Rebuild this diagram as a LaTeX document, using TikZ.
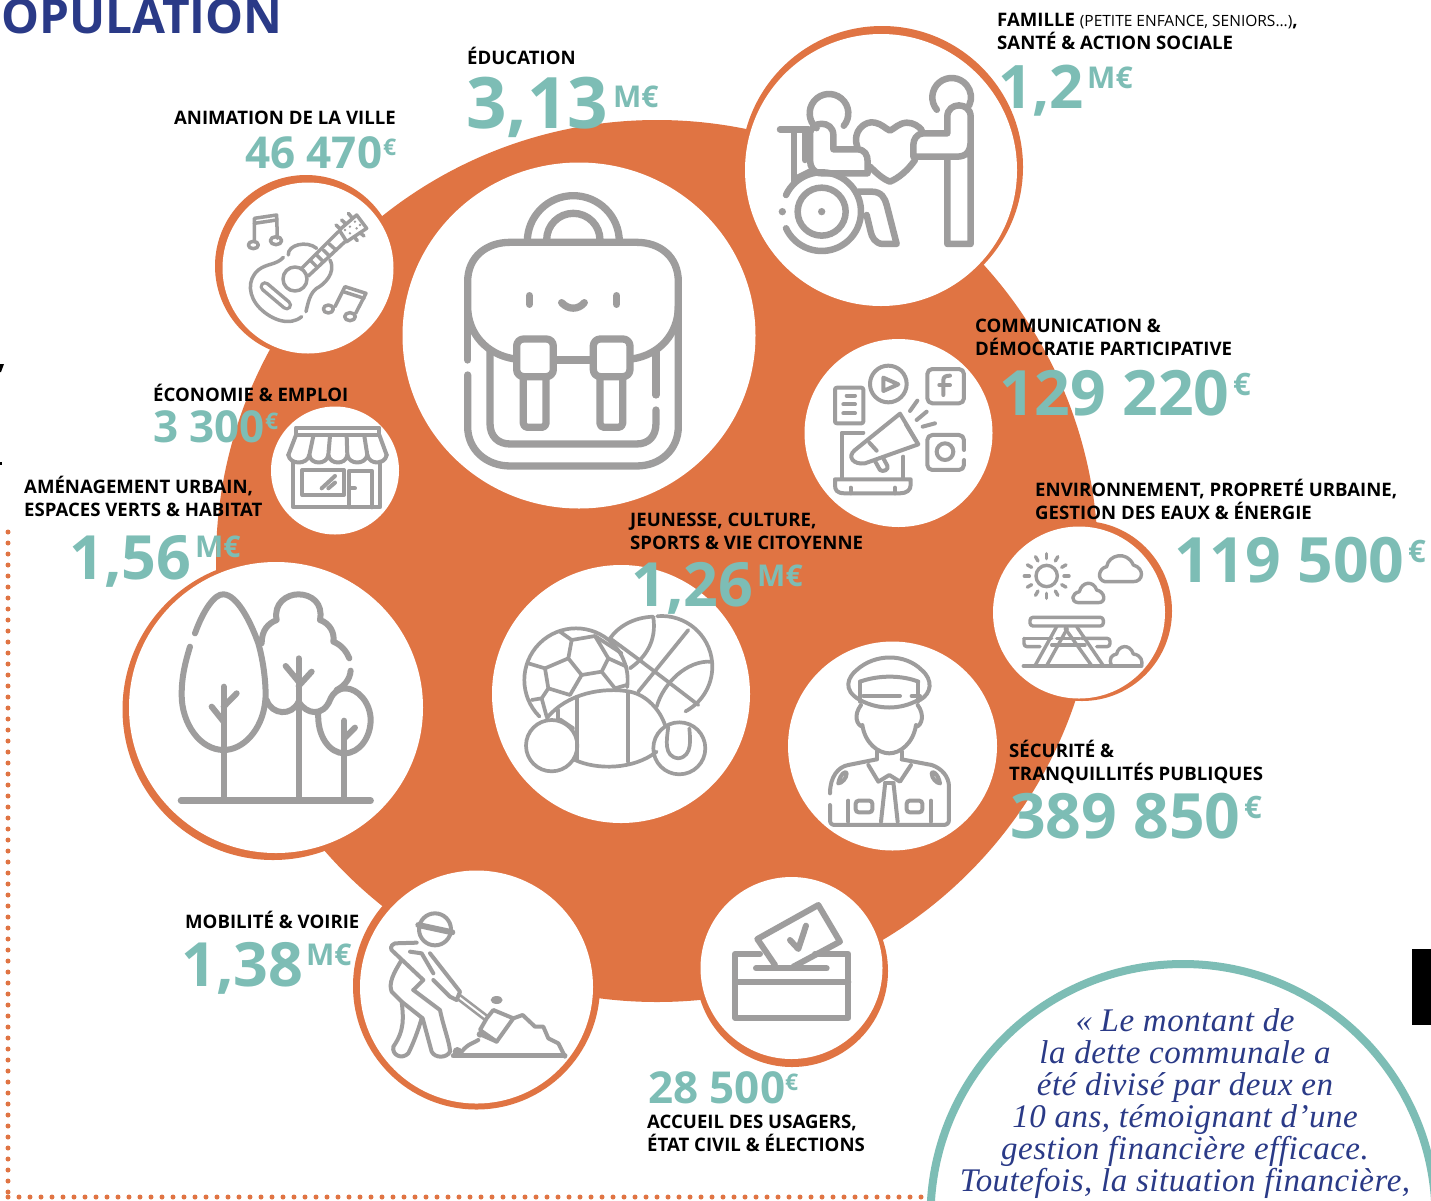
\documentclass[tikz,border=0pt]{standalone}
\usepackage{fontspec}
\newfontfamily\regfont{Open Sans}
\newcommand{\labfont}{\regfont\bfseries}
\newcommand{\numfont}{\regfont\bfseries}
\newfontfamily\quotebase{Liberation Serif}[LetterSpace=1.5]
\newcommand{\quotefont}{\quotebase\itshape}
\definecolor{orng}{HTML}{E07443}
\definecolor{teal1}{HTML}{7DBDB5}
\definecolor{icg}{HTML}{9E9D9D}
\definecolor{navy1}{HTML}{2A3A87}
\tikzset{
  ic/.style={draw=icg,line cap=round,line join=round},
  lab/.style={inner sep=0pt,anchor=base west,text=black,font=\labfont\fontsize{18.6}{18.6}\selectfont},
  nb/.style={inner sep=0pt,anchor=base west,text=teal1},
  qt/.style={inner sep=0pt,anchor=base,text=navy1,font=\quotefont\fontsize{33}{33}\selectfont},
  dots/.style={orng,line width=5pt,line cap=round,dash pattern=on 0pt off 11pt},
  whitec/.style={fill=white},
  ringc/.style={fill=orng},
}
\newcommand{\lbl}[4]{\node[lab] (#1) at (#2,#3) {#4};}
\newcommand{\nbr}[5]{\node[nb,font=\numfont\fontsize{#4}{#4}\selectfont] (#1) at (#2,#3) {#5};}
\begin{document}
\begin{tikzpicture}[x=1pt,y=-1pt]
\useasboundingbox (0,0) rectangle (1431,1200);
\clip (0,0) rectangle (1431,1200);
\fill[white] (0,0) rectangle (1431,1200);
% dotted frame
\coordinate (d1) at (8,531); \coordinate (d2) at (8,1192); \coordinate (d3) at (8,1197); \coordinate (d4) at (922,1197);
\draw[dots] (d2) -- (d1);
\draw[dots] (d3) -- (d4);
% cropped marks at the left edge
\fill[black] (0,364) -- (4,364) -- (1,372) -- (0,372) -- cycle;
\fill[black] (0,462) rectangle (2,465);
% main disc
\fill[orng] (657,561) circle[radius=441];
% rings
\fill[ringc] (882,167) circle[radius=141];
\fill[ringc] (306,266) circle[radius=91];
\fill[ringc] (1082,611) circle[radius=90];
\fill[ringc] (476.5,986) circle[radius=123.5];
\fill[ringc] (792,971) circle[radius=96];
\fill[ringc] (273,709.5) circle[radius=150.5];
% white discs
\fill[whitec] (881,170) circle[radius=136];
\fill[whitec] (579,335.5) ellipse[x radius=176.5,y radius=173];
\fill[whitec] (308,268) circle[radius=85.5];
\fill[whitec] (898.5,433) circle[radius=94];
\fill[whitec] (335,470.5) circle[radius=64];
\fill[whitec] (1079,612.5) circle[radius=86];
\fill[whitec] (621,694) circle[radius=129];
\fill[whitec] (892.5,746) circle[radius=104.5];
\fill[whitec] (476.5,987) circle[radius=116.5];
\fill[whitec] (791.5,968) circle[radius=91];
\fill[whitec] (276,707.5) ellipse[x radius=147,y radius=145.5];
% quote disc
\draw[teal1,line width=8pt,fill=white] (1183,1216.5) circle[radius=252.5];
% black bar
\fill[black] (1412,949) rectangle (1431,1025);

% ---- family icon
\begin{scope}[shift={(740,20)},x=0.3333pt,y=-0.3333pt,line width=6.5pt]
\draw[ic] (267,280) ++(40:58) arc[start angle=40,end angle=-230,radius=58];
\draw[ic] (210,345) .. controls (210,300) and (280,300) .. (280,345) -- (280,388) -- (350,388) .. controls (375,388) and (383,405) .. (383,425) -- (383,460) -- (245,460) .. controls (220,460) and (210,440) .. (210,420) -- cycle;
\draw[ic] (120,328) -- (205,328);
\draw[ic] (162,328) -- (162,490);
\draw[ic] (195,335) -- (195,420);
\draw[ic] (170,475) -- (210,455);
\draw[ic] (245,575) ++(-155:118) arc[start angle=-155,end angle=155,radius=118];
\draw[ic] (245,575) circle[radius=72];
\fill[icg] (245,575) circle[radius=11];
\fill[icg] (127,575) circle[radius=11];
\draw[ic] (355,515) -- (395,515) .. controls (425,515) and (435,535) .. (440,555) -- (470,672) -- (430,672) .. controls (405,672) and (395,650) .. (392,635) -- (380,585);
\draw[ic] (352,380) .. controls (335,335) and (375,300) .. (405,308) .. controls (425,312) and (435,325) .. (450,332) .. controls (465,325) and (475,310) .. (500,308) .. controls (520,308) and (535,318) .. (545,330);
\draw[ic] (525,420) .. controls (505,450) and (475,475) .. (450,485) .. controls (430,478) and (410,460) .. (390,440);
\draw[ic] (635,232) ++(140:58) arc[start angle=140,end angle=385,radius=58];
\draw[ic] (622,410) -- (622,672) -- (692,672) -- (692,290) .. controls (692,245) and (622,245) .. (622,290) -- (622,340) -- (550,340) .. controls (530,340) and (520,360) .. (520,375) -- (520,410) -- (650,410) .. controls (680,410) and (692,395) .. (692,360);
\end{scope}

% ---- backpack icon
\begin{scope}[shift={(400,160)},x=0.3333pt,y=-0.3333pt,line width=7.3pt]
\draw[ic] (520,245) ++(180:138) arc[start angle=180,end angle=360,radius=138];
\draw[ic] (520,240) ++(180:80) arc[start angle=180,end angle=360,radius=80];
\draw[ic] (345,597) .. controls (260,585) and (203,520) .. (203,440) -- (203,365) .. controls (203,290) and (260,247) .. (330,247) -- (710,247) .. controls (780,247) and (835,290) .. (835,365) -- (835,440) .. controls (835,520) and (780,585) .. (695,597);
\draw[ic] (465,600) -- (575,600);
\draw[ic] (203,440) -- (203,600);
\draw[ic] (203,645) -- (203,800) .. controls (203,870) and (260,918) .. (330,918) -- (710,918) .. controls (780,918) and (835,870) .. (835,800) -- (835,440);
\draw[ic] (270,570) -- (270,790) .. controls (270,830) and (295,852) .. (330,852) -- (710,852) .. controls (745,852) and (768,830) .. (768,790) -- (768,750);
\draw[ic] (768,575) -- (768,705);
\draw[ic,rounded corners=7pt] (350,537) rectangle (460,650);
\draw[ic,rounded corners=7pt] (580,537) rectangle (690,650);
\draw[ic,rounded corners=4pt] (370,655) -- (370,802) -- (438,802) -- (438,655);
\draw[ic,rounded corners=4pt] (600,655) -- (600,802) -- (668,802) -- (668,655);
\draw[ic] (388,407) -- (388,433);
\draw[ic] (650,407) -- (650,433);
\draw[ic] (485,428) .. controls (505,450) and (535,450) .. (553,428);
\end{scope}

% ---- guitar icon
\begin{scope}[shift={(210,170)},x=0.3333pt,y=-0.3333pt,line width=3.5pt]
\draw[ic] (133,215) -- (133,145) -- (200,135) -- (202,205);
\draw[ic] (133,160) -- (200,150);
\draw[ic] (130,225) ellipse[x radius=15,y radius=11];
\draw[ic] (198,212) ellipse[x radius=17,y radius=12];
\draw[ic] (375,410) -- (405,350) -- (468,370) -- (437,430);
\draw[ic] (400,365) -- (462,385);
\draw[ic] (355,417) ellipse[x radius=15,y radius=12];
\draw[ic] (420,440) ellipse[x radius=16,y radius=12];
\draw[ic] (235,255) .. controls (232,225) and (290,210) .. (320,235);
\draw[ic] (360,270) .. controls (380,310) and (340,345) .. (320,355) .. controls (300,370) and (295,395) .. (288,425);
\draw[ic] (220,262) .. controls (200,285) and (170,280) .. (145,300) .. controls (110,330) and (115,380) .. (150,415) .. controls (185,450) and (240,470) .. (275,440);
\draw[ic] (255,327) circle[radius=36];
\draw[ic] (275,295) -- (385,185);
\draw[ic] (295,318) -- (405,215);
\draw[ic] (300,270) -- (320,290);
\draw[ic] (320,255) -- (340,275);
\draw[ic] (340,240) -- (358,258);
\draw[ic] (358,222) -- (378,240);
\draw[ic] (388,180) -- (440,135) -- (470,175) -- (410,215) -- cycle;
\draw[ic] (378,165) -- (392,178);
\draw[ic] (395,150) -- (408,162);
\draw[ic] (415,130) -- (427,144);
\draw[ic] (432,200) -- (442,212);
\draw[ic] (450,188) -- (462,198);
\foreach \p/\q in {405/180,420/170,435/155,420/190,440/175,450/165}
  \fill[icg] (\p,\q) circle[radius=4];
\draw[icg,line width=11pt,line cap=round] (165,350) -- (230,405);
\draw[white,line width=4pt,line cap=round] (165,350) -- (230,405);
\end{scope}

% ---- communication icon
\begin{scope}[shift={(800,335)},x=0.3333pt,y=-0.3333pt,line width=4pt]
\draw[ic] (265,147) circle[radius=55];
\draw[ic] (250,128) -- (295,148) -- (250,168) -- cycle;
\draw[ic,rounded corners=5pt] (382,102) rectangle (492,205);
\draw[ic] (430,180) -- (430,135) .. controls (430,125) and (438,122) .. (450,122);
\draw[ic] (418,150) -- (450,150);
\draw[ic,rounded corners=2pt] (105,158) rectangle (190,265);
\draw[ic] (140,182) -- (165,182);
\draw[ic] (130,208) -- (165,208);
\draw[ic] (130,235) -- (165,235);
\draw[ic,rounded corners=5pt] (492,345) -- (492,300) -- (382,300) -- (382,405) -- (492,405) -- (492,375);
\draw[ic] (435,350) circle[radius=25];
\draw[ic] (330,228) -- (352,197);
\draw[ic] (350,255) -- (380,230);
\draw[ic] (368,275) -- (405,265);
\draw[ic] (300,236) -- (355,328) -- (195,385) .. controls (160,390) and (140,365) .. (165,345) -- cycle;
\draw[ic] (208,323) -- (230,347);
\draw[ic] (318,268) -- (348,318);
\draw[ic] (225,378) -- (240,405) .. controls (248,412) and (268,405) .. (262,392) -- (250,370);
\draw[ic] (190,293) -- (125,293) -- (125,430);
\draw[ic] (310,365) -- (310,430);
\draw[ic] (105,433) -- (332,433) -- (332,450) .. controls (332,465) and (320,475) .. (300,475) -- (135,475) .. controls (110,475) and (105,465) .. (105,450) -- cycle;
\draw[ic] (152,458) -- (152,475);
\draw[ic] (285,458) -- (285,475);
\end{scope}

% ---- shop icon
\begin{scope}[shift={(270,400)},x=0.3333pt,y=-0.3333pt,line width=4pt]
\draw[ic] (78,83) rectangle (328,105);
\draw[ic] (78,105) -- (55,165);
\draw[ic] (328,105) -- (350,165);
\draw[ic] (130,108) -- (118,165);
\draw[ic] (180,108) -- (175,165);
\draw[ic] (230,108) -- (232,165);
\draw[ic] (283,108) -- (292,165);
\draw[ic] (55,165) .. controls (60,195) and (112,195) .. (118,165) .. controls (122,195) and (170,195) .. (175,165) .. controls (180,195) and (228,195) .. (232,165) .. controls (238,195) and (286,195) .. (292,165) .. controls (298,195) and (345,195) .. (350,165);
\draw[ic] (70,185) -- (70,322) -- (330,322) -- (330,185);
\draw[ic] (97,210) rectangle (222,285);
\draw[ic] (238,322) -- (238,212) -- (305,212) -- (305,322);
\draw[ic] (240,265) -- (255,265);
\draw[ic] (155,265) -- (195,228);
\draw[ic] (175,265) -- (195,248);
\end{scope}

% ---- picnic icon
\begin{scope}[shift={(990,520)},x=0.3333pt,y=-0.3333pt,line width=3.4pt]
\draw[ic] (170,168) circle[radius=32];
\foreach \a in {0,30,...,330}
  \draw[ic] (170,168) ++(\a:52) -- ++(\a:15);
\draw[ic] (345,185) .. controls (320,180) and (325,145) .. (350,140) .. controls (355,105) and (410,90) .. (430,135) .. controls (465,145) and (460,185) .. (430,185) -- cycle;
\draw[ic] (265,248) .. controls (240,245) and (245,220) .. (268,215) .. controls (275,185) and (310,180) .. (320,210) .. controls (345,215) and (350,248) .. (325,248) -- cycle;
\draw[ic,rounded corners=3pt] (120,292) rectangle (340,318);
\draw[ic,rounded corners=3pt] (102,355) -- (185,355);
\draw[ic,rounded corners=3pt] (275,355) -- (360,355) -- (360,380) -- (320,380);
\draw[ic,rounded corners=3pt] (150,380) -- (102,380) -- (102,355);
\draw[ic] (185,375) -- (285,375);
\draw[ic] (200,355) -- (270,355);
\draw[ic] (135,437) -- (200,320);
\draw[ic] (170,437) -- (232,325);
\draw[ic] (225,325) -- (305,437);
\draw[ic] (260,320) -- (340,437);
\draw[ic] (100,438) -- (455,438);
\draw[ic] (365,438) .. controls (355,415) and (365,405) .. (380,402) .. controls (385,375) and (420,370) .. (430,402) .. controls (455,405) and (458,425) .. (455,438);
\end{scope}

% ---- sports icon
\begin{scope}[shift={(490,560)},x=0.3333pt,y=-0.3333pt,line width=3.7pt]
\draw[ic] (258,360) ++(135:155) arc[start angle=135,end angle=368,radius=155];
\draw[ic] (360,235) .. controls (385,200) and (430,172) .. (490,170);
\draw[ic] (515,320) ++(-95:152) arc[start angle=-95,end angle=62,radius=152];
\draw[ic] (170,475) .. controls (230,400) and (340,380) .. (420,395) .. controls (470,405) and (510,450) .. (525,495);
\draw[ic] (255,600) .. controls (320,630) and (430,630) .. (500,575);
\draw[ic] (185,557) circle[radius=77];
\draw[ic] (568,565) circle[radius=78];
\draw[ic] (535,500) .. controls (530,540) and (520,590) .. (565,595) .. controls (610,590) and (600,530) .. (598,505);
\draw[ic] (260,410) -- (260,600);
\draw[ic] (415,395) -- (415,605);
\draw[ic] (205,450) -- (205,480);
\draw[ic] (210,478) -- (250,505);
\draw[ic] (245,240) -- (315,228) -- (355,295) -- (335,335) -- (275,345) -- (235,295) -- cycle;
\draw[ic] (235,295) -- (165,325) -- (175,385) -- (240,405) -- (275,345);
\draw[ic] (115,310) -- (165,325);
\draw[ic] (175,385) -- (155,415) -- (125,420);
\draw[ic] (155,415) -- (170,470);
\draw[ic] (210,215) -- (245,240);
\draw[ic] (315,228) -- (395,280);
\draw[ic] (355,295) -- (410,320);
\draw[ic] (335,335) -- (375,385) -- (410,375);
\draw[ic] (490,172) .. controls (500,240) and (470,290) .. (420,325);
\draw[ic] (360,235) .. controls (450,300) and (540,370) .. (625,435);
\draw[ic] (595,210) -- (445,395);
\draw[ic] (665,305) .. controls (590,300) and (520,370) .. (500,440);
\end{scope}

% ---- police icon
\begin{scope}[shift={(785,640)},x=0.3333pt,y=-0.3333pt,line width=4pt]
\draw[ic] (225,180) .. controls (170,150) and (190,110) .. (215,90) .. controls (270,40) and (360,40) .. (410,90) .. controls (445,120) and (440,160) .. (405,180);
\draw[ic] (225,125) .. controls (280,105) and (350,105) .. (400,125);
\draw[ic] (225,125) -- (225,185);
\draw[ic] (400,125) -- (400,185);
\draw[ic] (225,180) .. controls (280,210) and (345,210) .. (400,180);
\draw[ic] (235,168) -- (345,168);
\draw[ic] (380,168) -- (405,168);
\draw[ic] (228,195) .. controls (205,225) and (215,255) .. (232,260);
\draw[ic] (398,195) .. controls (420,225) and (410,255) .. (395,260);
\draw[ic] (232,255) .. controls (240,310) and (280,340) .. (313,340) .. controls (345,340) and (385,310) .. (393,255);
\draw[ic] (275,335) -- (275,358);
\draw[ic] (350,335) -- (350,358);
\draw[ic] (135,460) .. controls (135,410) and (160,380) .. (190,375) -- (275,358);
\draw[ic] (350,358) -- (440,375) .. controls (470,385) and (492,410) .. (492,440) -- (492,540) .. controls (492,550) and (485,555) .. (475,555) -- (150,555) .. controls (140,555) and (135,550) .. (135,540) -- (135,495);
\draw[ic] (250,375) -- (280,425) -- (313,405) -- (345,425) -- (378,375);
\draw[ic] (300,428) -- (326,428);
\draw[ic] (300,435) -- (288,545);
\draw[ic] (326,435) -- (338,545);
\draw[ic] (160,430) .. controls (165,400) and (185,390) .. (185,400) .. controls (185,415) and (170,430) .. (160,430);
\draw[ic] (465,430) .. controls (460,400) and (440,390) .. (440,400) .. controls (440,415) and (455,430) .. (465,430);
\draw[ic,rounded corners=3pt] (212,482) rectangle (262,517);
\draw[ic,rounded corners=3pt] (365,482) rectangle (412,517);
\draw[ic] (190,482) -- (190,545);
\draw[ic] (438,482) -- (438,545);
\end{scope}

% ---- digger icon
\begin{scope}[shift={(350,870)},x=0.3333pt,y=-0.3333pt,line width=4pt]
\draw[ic] (255,178) circle[radius=48];
\draw[icg,line width=6pt,line cap=round] (205,165) -- (307,187);
\draw[ic] (155,270) .. controls (130,310) and (115,340) .. (125,365) -- (155,395) .. controls (160,440) and (165,480) .. (130,530) .. controls (125,555) and (155,570) .. (175,550) .. controls (190,520) and (205,480) .. (215,445);
\draw[ic] (190,360) -- (270,420) .. controls (280,470) and (300,520) .. (300,545) .. controls (290,565) and (255,565) .. (245,545) -- (218,445) -- (155,395);
\draw[ic] (200,218) -- (135,220) .. controls (120,225) and (120,240) .. (130,245) -- (220,330) -- (190,360);
\draw[ic] (180,245) -- (215,250) -- (250,310);
\draw[ic] (240,250) -- (330,365) -- (320,390) -- (300,380) -- (250,330);
\draw[icg,line width=2.5pt] (330,375) -- (415,440);
\draw[icg,line width=2.5pt] (320,385) -- (405,450);
\draw[ic] (430,420) -- (490,445) -- (440,515) -- (390,480) -- (410,445) -- cycle;
\fill[icg] (440,390) ellipse[x radius=18,y radius=12];
\fill[icg] (390,493) circle[radius=10];
\draw[ic] (490,445) -- (518,435) -- (555,470) -- (580,470) -- (595,505) -- (625,520) -- (645,560);
\draw[icg,line width=5pt,line cap=round] (310,558) -- (645,558);
\draw[ic] (335,545) .. controls (355,520) and (370,520) .. (385,510);
\fill[icg] (322,545) circle[radius=14];
\draw[ic] (440,515) -- (395,495);
\end{scope}

% ---- ballot icon
\begin{scope}[shift={(695,875)},x=0.3333pt,y=-0.3333pt,line width=6pt]
\draw[ic] (195,237) -- (120,237) -- (120,428) -- (460,428) -- (460,237) -- (360,237);
\draw[ic] (120,322) -- (460,322);
\draw[ic] (183,280) -- (395,280);
\draw[ic] (240,270) -- (187,192) -- (370,90) -- (435,200) -- (295,275);
\draw[ic] (285,195) -- (310,222) -- (333,152);
\end{scope}

% ---- trees icon
\begin{scope}[shift={(120,560)},x=0.3333pt,y=-0.3333pt,line width=6pt]
\draw[icg,line width=6.5pt,line cap=round] (183,722) -- (752,722);
\draw[ic] (311,380) -- (311,715);
\draw[ic] (275,440) -- (311,485);
\draw[ic] (350,400) -- (311,440);
\draw[ic] (225,220) .. controls (250,150) and (285,100) .. (311,103) .. controls (350,105) and (390,180) .. (415,250) .. controls (435,320) and (440,400) .. (435,430) .. controls (425,510) and (370,570) .. (311,570) .. controls (240,570) and (185,490) .. (185,405) .. controls (185,350) and (195,310) .. (210,260);
\draw[ic] (536,295) -- (536,715);
\draw[ic] (497,318) -- (536,365);
\draw[ic] (575,335) -- (536,378);
\draw[ic] (425,250) .. controls (425,210) and (445,190) .. (470,180) .. controls (460,130) and (500,103) .. (535,103) .. controls (575,103) and (610,130) .. (600,180) .. controls (630,190) and (645,220) .. (640,245) .. controls (665,255) and (680,275) .. (688,295);
\draw[ic] (692,332) .. controls (690,360) and (670,380) .. (650,390);
\draw[ic] (440,420) .. controls (455,465) and (515,470) .. (536,425) .. controls (560,465) and (610,470) .. (630,420) .. controls (640,395) and (660,385) .. (675,385);
\draw[ic] (595,455) .. controls (590,530) and (630,580) .. (673,580) .. controls (720,580) and (752,530) .. (752,480) .. controls (752,430) and (715,385) .. (675,385);
\draw[ic] (673,482) -- (673,715);
\draw[ic] (705,503) -- (673,535);
\end{scope}

% ---- texts
\node[inner sep=0pt,anchor=base west,text=navy1,font=\numfont\fontsize{47.8}{47.8}\selectfont] (title) at (1,33) {OPULATION};
\lbl{edu}{467}{64}{ÉDUCATION}
\nbr{eduN}{466}{128}{71}{3,13}
\nbr{eduU}{613}{107}{30}{M€}
\lbl{fam1}{997}{26}{FAMILLE {\regfont\mdseries\fontsize{15.5}{15.5}\selectfont (PETITE ENFANCE, SENIORS...)},}
\lbl{fam2}{997}{49}{SANTÉ \& ACTION SOCIALE}
\nbr{famN}{998}{108}{60}{1,2}
\nbr{famU}{1087}{88}{30}{M€}
\node[lab,anchor=base east] (ani) at (396,124) {ANIMATION DE LA VILLE};
\nbr{aniN}{245}{168}{44}{46 470}
\nbr{aniU}{383}{155}{23}{€}
\lbl{eco}{153}{401}{ÉCONOMIE \& EMPLOI}
\nbr{ecoN}{153}{442}{44}{3 300}
\nbr{ecoU}{265}{429}{23}{€}
\lbl{ame1}{24}{493}{AMÉNAGEMENT URBAIN,}
\lbl{ame2}{24}{516}{ESPACES VERTS \& HABITAT}
\nbr{ameN}{69}{579}{61}{1,56}
\nbr{ameU}{195}{557}{30}{M€}
\lbl{com1}{975}{332}{COMMUNICATION \&}
\lbl{com2}{975}{355}{DÉMOCRATIE PARTICIPATIVE}
\nbr{comN}{999}{415}{62.5}{129 220}
\nbr{comU}{1233}{395}{31}{€}
\lbl{env1}{1035}{496}{ENVIRONNEMENT, PROPRETÉ URBAINE,}
\lbl{env2}{1035}{519}{GESTION DES EAUX \& ÉNERGIE}
\nbr{envN}{1174}{582}{62.5}{119 500}
\nbr{envU}{1408}{562}{31}{€}
\lbl{jeu1}{630}{526}{JEUNESSE, CULTURE,}
\lbl{jeu2}{630}{549}{SPORTS \& VIE CITOYENNE}
\nbr{jeuN}{631}{606}{61}{1,26}
\nbr{jeuU}{757}{586}{30}{M€}
\lbl{sec1}{1009}{757}{SÉCURITÉ \&}
\lbl{sec2}{1009}{780}{TRANQUILLITÉS PUBLIQUES}
\nbr{secN}{1010}{838}{62.5}{389 850}
\nbr{secU}{1244}{818}{31}{€}
\lbl{mob}{185}{928}{MOBILITÉ \& VOIRIE}
\nbr{mobN}{181}{986}{61}{1,38}
\nbr{mobU}{306}{965}{30}{M€}
\nbr{accN}{648}{1103}{44}{28 500}
\nbr{accU}{785}{1090}{23}{€}
\lbl{acc1}{647}{1128}{ACCUEIL DES USAGERS,}
\lbl{acc2}{647}{1151}{ÉTAT CIVIL \& ÉLECTIONS}
% quote
\node[qt] (q1) at (1185,1031) {« Le montant de};
\node[qt] (q2) at (1185,1063) {la dette communale a};
\node[qt] (q3) at (1185,1095) {été divisé par deux en};
\node[qt] (q4) at (1185,1127) {10 ans, témoignant d’une};
\node[qt] (q5) at (1185,1159) {gestion financière efficace.};
\node[qt] (q6) at (1185,1191) {Toutefois, la situation financière,};
\end{tikzpicture}
\end{document}
